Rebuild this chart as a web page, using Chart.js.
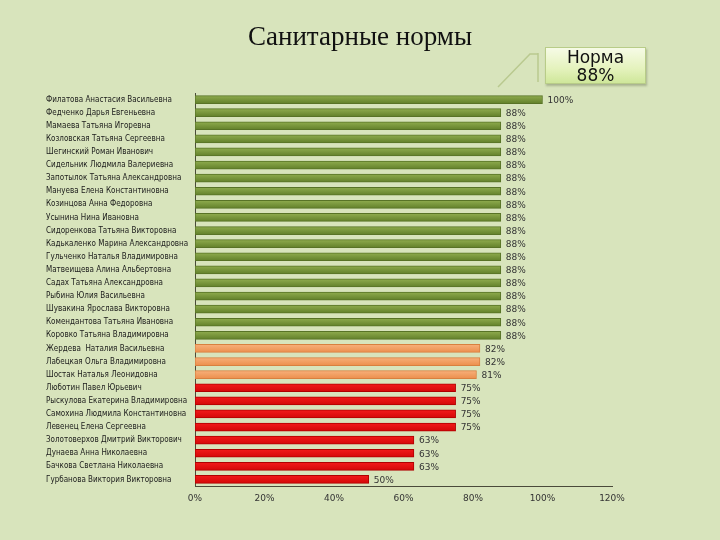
<!DOCTYPE html>
<html>
<head>
<meta charset="utf-8">
<script src="https://cdn.jsdelivr.net/npm/chart.js@4.4.1/dist/chart.umd.min.js"></script>
<style>
  html, body { margin: 0; padding: 0; }
  body { width: 720px; height: 540px; background: #d8e4bc; position: relative; overflow: hidden; }
  #wrap { position: absolute; left: 0; top: 0; width: 720px; height: 540px; }
  #title {
    position: absolute; left: 0; top: 21px; width: 720px; text-align: center;
    font-family: "Liberation Serif", "DejaVu Serif", serif; font-size: 27px; color: #111;
  }
  #norma {
    position: absolute; left: 545px; top: 47px; width: 101px; height: 37px;
    border: 1px solid #b8cc88; box-sizing: border-box;
    background: linear-gradient(#f6fbe6, #e4f2bc 60%, #cfe79a);
    box-shadow: 1px 2px 2px rgba(80, 90, 60, 0.35);
    font-family: "DejaVu Sans", "Noto Sans", sans-serif; font-size: 17px; line-height: 18px;
    text-align: center; color: #111; padding-top: 0px;
  }
</style>
</head>
<body>
<div id="wrap"><canvas id="sanChart" width="720" height="540"></canvas></div>
<div id="title">Санитарные нормы</div>
<div id="norma">Норма<br>88%</div>
<script>
// names top to bottom
const names = [
    'Филатова Анастасия Васильевна',
    'Федченко Дарья Евгеньевна',
    'Мамаева Татьяна Игоревна',
    'Козловская Татьяна Сергеевна',
    'Шегинский Роман Иванович',
    'Сидельник Людмила Валериевна',
    'Запотылок Татьяна Александровна',
    'Мануева Елена Константиновна',
    'Козинцова Анна Федоровна',
    'Усынина Нина Ивановна',
    'Сидоренкова Татьяна Викторовна',
    'Кадькаленко Марина Александровна',
    'Гульченко Наталья Владимировна',
    'Матвеищева Алина Альбертовна',
    'Садах Татьяна Александровна',
    'Рыбина Юлия Васильевна',
    'Шувакина Ярослава Викторовна',
    'Комендантова Татьяна Ивановна',
    'Коровко Татьяна Владимировна',
    'Жердева  Наталия Васильевна',
    'Лабецкая Ольга Владимировна',
    'Шостак Наталья Леонидовна',
    'Люботин Павел Юрьевич',
    'Рыскулова Екатерина Владимировна',
    'Самохина Людмила Константиновна',
    'Левенец Елена Сергеевна',
    'Золотоверхов Дмитрий Викторович',
    'Дунаева Анна Николаевна',
    'Бачкова Светлана Николаевна',
    'Гурбанова Виктория Викторовна'
];

// percent values
const scores = [
    100, 88, 88, 88, 88, 88, 88, 88, 88, 88,
    88, 88, 88, 88, 88, 88, 88, 88, 88,
    82, 82, 81,
    75, 75, 75, 75,
    63, 63, 63,
    50
];

const xTicks = [0, 20, 40, 60, 80, 100, 120];

// group colours: [top, bottom, border]
const greenTone = ['#8fac4e', '#62802a', '#587326'];
const orangeTone = ['#f7b07a', '#ec8f4c', '#d8803f'];
const redTone = ['#f21a1a', '#d40808', '#b00000'];

function toneFor(v) {
    if (v >= 88) return greenTone;
    if (v >= 80) return orangeTone;
    return redTone;
}

let chartInstance;

function barFill(ctx) {
    const tone = toneFor(ctx.raw);
    const chart = ctx.chart;
    const y = chart.scales && chart.scales.y;
    if (!y || ctx.type !== 'data') return tone[0];
    const cy = y.getPixelForValue(ctx.dataIndex);
    if (!Number.isFinite(cy)) return tone[0];
    const g = chart.ctx.createLinearGradient(0, cy - 4, 0, cy + 4);
    g.addColorStop(0, tone[0]);
    g.addColorStop(1, tone[1]);
    return g;
}

// labels at the end of each bar
const valueLabels = {
    id: 'valueLabels',
    afterDatasetsDraw(chart) {
        const c = chart.ctx;
        const meta = chart.getDatasetMeta(0);
        c.save();
        c.font = '9px "DejaVu Sans", sans-serif';
        c.fillStyle = '#333';
        c.textBaseline = 'middle';
        meta.data.forEach((bar, i) => {
            c.fillText(scores[i] + '%', bar.x + 5, bar.y + 1);
        });
        c.restore();
    }
};

// leader line of the callout
const calloutLine = {
    id: 'calloutLine',
    afterDraw(chart) {
        const c = chart.ctx;
        c.save();
        c.strokeStyle = '#b9c98f';
        c.lineWidth = 1.5;
        c.beginPath();
        c.moveTo(498, 87);
        c.lineTo(530, 54);
        c.lineTo(538, 54);
        c.moveTo(538, 53);
        c.lineTo(538, 82);
        c.stroke();
        c.restore();
    }
};

function renderChart() {
    const ctx = document.getElementById('sanChart').getContext('2d');

    chartInstance = new Chart(ctx, {
        type: 'bar',
        data: {
            labels: names,
            datasets: [{
                data: scores,
                backgroundColor: barFill,
                borderColor: c => toneFor(c.raw)[2],
                borderWidth: 1,
                borderSkipped: false,
                barThickness: 8
            }]
        },
        options: {
            indexAxis: 'y',
            responsive: false,
            animation: false,
            devicePixelRatio: 1,
            layout: { padding: { left: 46, right: 108, top: 93, bottom: 34 } },
            plugins: {
                legend: { display: false },
                tooltip: { enabled: false }
            },
            scales: {
                x: {
                    min: 0,
                    max: 120,
                    afterBuildTicks: s => { s.ticks = xTicks.map(v => ({ value: v })); },
                    afterFit: s => { s.height = 20; },
                    grid: { display: false, drawTicks: false },
                    border: { display: true, color: '#4a4a3a', width: 1 },
                    ticks: {
                        padding: 7,
                        color: '#333',
                        font: { family: '"DejaVu Sans", sans-serif', size: 9 },
                        callback: v => v + '%'
                    }
                },
                y: {
                    afterFit: s => { s.width = 149; },
                    grid: { display: false, drawTicks: false },
                    border: { display: true, color: '#4a4a3a', width: 1 },
                    ticks: {
                        autoSkip: false,
                        crossAlign: 'far',
                        color: '#1a1a1a',
                        font: { family: '"DejaVu Sans Condensed", "DejaVu Sans", sans-serif', size: 8 }
                    }
                }
            }
        },
        plugins: [valueLabels, calloutLine]
    });
}

renderChart();
</script>
</body>
</html>
